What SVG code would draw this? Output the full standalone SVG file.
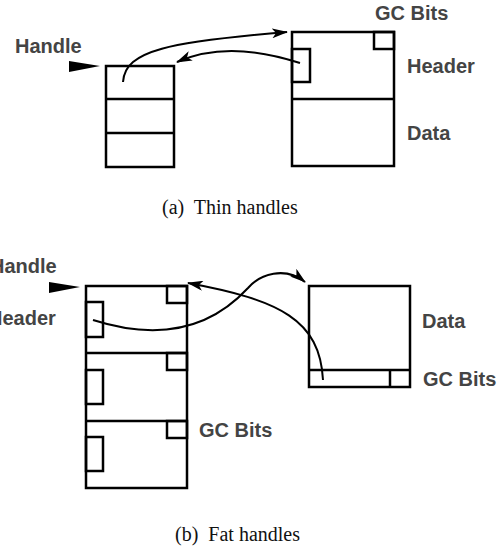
<svg xmlns="http://www.w3.org/2000/svg" width="500" height="550" viewBox="0 0 500 550">
<defs>
<style>
.box{fill:none;stroke:#000;stroke-width:2.5;stroke-linejoin:miter}
.con{fill:none;stroke:#000;stroke-width:2}
.lbl{font-family:"Liberation Sans",Arial,sans-serif;font-weight:bold;font-size:20px;fill:#444}
.cap{font-family:"Liberation Serif","Times New Roman",serif;font-size:20px;fill:#111}
.ptr{fill:#000}
</style>
<marker id="ah" markerUnits="userSpaceOnUse" viewBox="0 0 16 10" refX="15" refY="5" markerWidth="16" markerHeight="10" orient="auto">
<path d="M0,0 L16,5 L0,10 L4,5 z" fill="#000"/>
</marker>
</defs>
<rect width="500" height="550" fill="#fff"/>

<!-- (a) Thin handles -->
<g id="thin-handle-label">
<text class="lbl" x="15" y="53">Handle</text>
<polygon class="ptr" points="69,61 100,66 69,72"/>
</g>
<g id="thin-handle">
<rect class="box" x="106" y="66" width="68" height="101"/>
<line class="box" x1="106" y1="99" x2="174" y2="99"/>
<line class="box" x1="106" y1="133" x2="174" y2="133"/>
</g>
<g id="thin-object">
<rect class="box" x="292" y="32" width="102" height="134"/>
<line class="box" x1="292" y1="99" x2="394" y2="99"/>
<rect class="box" x="374" y="32" width="20" height="17"/>
<rect class="box" x="292" y="49" width="18" height="33"/>
<text class="lbl" x="375" y="20">GC Bits</text>
<text class="lbl" x="407" y="73">Header</text>
<text class="lbl" x="407" y="140">Data</text>
</g>
<text class="cap" x="162" y="214" xml:space="preserve">(a)  Thin handles</text>

<!-- (b) Fat handles -->
<g id="fat-handle-label">
<text class="lbl" x="-10" y="273">Handle</text>
<text class="lbl" x="-12" y="325">Header</text>
<polygon class="ptr" points="49,282 80,287 49,293"/>
</g>
<g id="fat-handle">
<rect class="box" x="86" y="286" width="101" height="202"/>
<line class="box" x1="86" y1="353" x2="187" y2="353"/>
<line class="box" x1="86" y1="421" x2="187" y2="421"/>
<rect class="box" x="167" y="286" width="20" height="17"/>
<rect class="box" x="167" y="353" width="20" height="17"/>
<rect class="box" x="167" y="421" width="20" height="17"/>
<rect class="box" x="86" y="302" width="17" height="35"/>
<rect class="box" x="86" y="370" width="17" height="34"/>
<rect class="box" x="86" y="437" width="17" height="34"/>
<text class="lbl" x="199" y="437">GC Bits</text>
</g>
<g id="fat-object">
<rect class="box" x="309" y="286" width="101" height="101"/>
<line class="box" x1="309" y1="370" x2="410" y2="370"/>
<line class="box" x1="390" y1="370" x2="390" y2="387"/>
<text class="lbl" x="422" y="328">Data</text>
<text class="lbl" x="423" y="386">GC Bits</text>
</g>
<text class="cap" x="175" y="541" xml:space="preserve">(b)  Fat handles</text>

<g id="connectors">
<path class="con" d="M123,82 C125,50 170,42 287,32" marker-end="url(#ah)"/>
<path class="con" d="M300,63 C260,50 215,45 177,62" marker-end="url(#ah)"/>
<path class="con" d="M323,380 C320,320 280,300 188,283" marker-end="url(#ah)"/>
<path class="con" d="M93,320 C140,335 200,340 248,288 C260,274 285,266 305,282" marker-end="url(#ah)"/>
</g>
</svg>
